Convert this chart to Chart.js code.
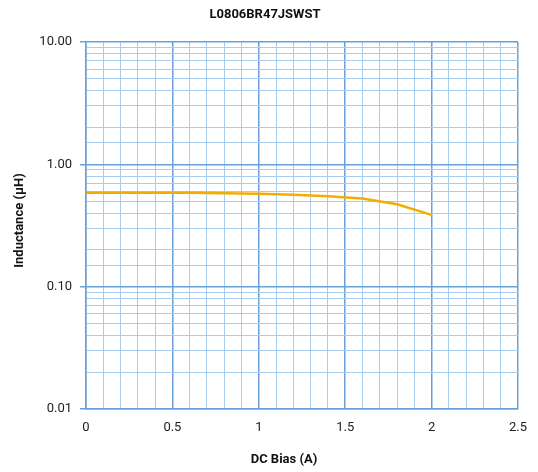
<!DOCTYPE html>
<html>
<head>
<meta charset="utf-8">
<script src="https://cdn.jsdelivr.net/npm/chart.js@4/dist/chart.umd.min.js"></script>
<style>
  html, body { margin: 0; padding: 0; background: #fff; }
  #wrap { width: 538px; height: 472px; }
</style>
</head>
<body>
<div id="wrap"><canvas id="c" width="538" height="472"></canvas></div>
<script>
const chartTitle = 'L0806BR47JSWST';
const xTitle = 'DC Bias (A)';
const yTitle = 'Inductance (µH)';
const biasA = [0, 0.2, 0.4, 0.6, 0.8, 1.0, 1.2, 1.4, 1.6, 1.8, 2.0];
const inductanceUH = [0.585, 0.586, 0.587, 0.585, 0.580, 0.575, 0.565, 0.548, 0.525, 0.472, 0.386];
const xMin = 0, xMax = 2.5, xStep = 0.1, xMajor = 0.5;
const yMin = 0.01, yMax = 10;

const majorColor = '#6b9fd8';
const minorColor = '#a9cdee';
const isMajorX = v => Math.abs(v / xMajor - Math.round(v / xMajor)) < 1e-6;
const isDecade = v => { const l = Math.log10(v); return Math.abs(l - Math.round(l)) < 1e-6; };

const titlesPlugin = {
  id: 'titles',
  afterDraw(chart) {
    const ctx = chart.ctx;
    ctx.save();
    ctx.fillStyle = '#111';
    ctx.textAlign = 'center';
    ctx.textBaseline = 'middle';
    ctx.font = 'bold 13px Roboto';
    ctx.fillText(chartTitle, 265, 15);
    ctx.fillText(xTitle, 284, 460);
    ctx.translate(20, 220.5);
    ctx.rotate(-Math.PI / 2);
    ctx.fillText(yTitle, 0, 0);
    ctx.restore();
  }
};

new Chart(document.getElementById('c'), {
  type: 'line',
  data: {
    datasets: [{
      data: biasA.map((x, i) => ({ x: x, y: inductanceUH[i] })),
      borderColor: '#f2ae00',
      borderWidth: 2.5,
      pointRadius: 0,
      tension: 0,
      fill: false
    }]
  },
  plugins: [titlesPlugin],
  options: {
    responsive: false,
    animation: false,
    layout: { padding: { left: 0, right: 20, top: 42, bottom: 0 } },
    plugins: {
      legend: { display: false },
      tooltip: { enabled: false },
      title: { display: false }
    },
    scales: {
      x: {
        type: 'linear',
        min: xMin, max: xMax,
        border: { color: majorColor, width: 1.5 },
        grid: {
          drawTicks: false,
          color: ctx => isMajorX(ctx.tick.value) ? majorColor : minorColor,
          lineWidth: ctx => isMajorX(ctx.tick.value) ? 1.5 : 1
        },
        ticks: {
          stepSize: xStep,
          autoSkip: false,
          maxRotation: 0,
          padding: 11,
          color: '#222',
          font: { family: 'Roboto', size: 13 },
          callback: v => isMajorX(v) ? String(Math.round(v * 10) / 10) : ''
        },
        afterFit: s => { s.height = 63; }
      },
      y: {
        type: 'logarithmic',
        min: yMin, max: yMax,
        border: { color: majorColor, width: 1.5 },
        grid: {
          tickLength: 6,
          color: ctx => isDecade(ctx.tick.value) ? majorColor : minorColor,
          tickColor: ctx => isDecade(ctx.tick.value) ? majorColor : 'rgba(0,0,0,0)',
          lineWidth: ctx => isDecade(ctx.tick.value) ? 1.5 : 1
        },
        ticks: {
          autoSkip: false,
          padding: 8,
          color: '#222',
          font: { family: 'Roboto', size: 13 },
          callback: v => isDecade(v) ? Number(v).toFixed(2) : ''
        },
        afterFit: s => { s.width = 86; }
      }
    }
  }
});
</script>
</body>
</html>
